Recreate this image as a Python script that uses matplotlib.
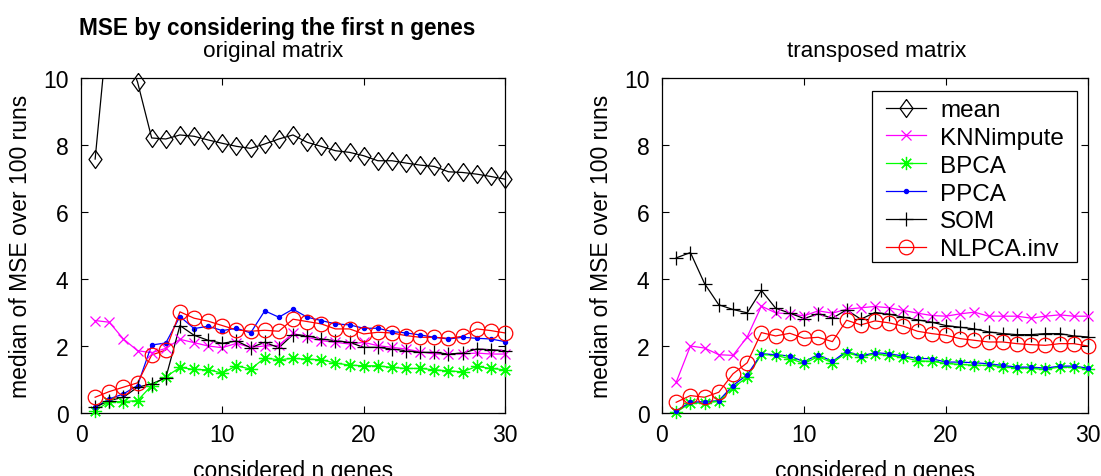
import numpy as np
import matplotlib
matplotlib.use("Agg")
import matplotlib.pyplot as plt
from matplotlib.lines import Line2D
from matplotlib.patches import Rectangle

plt.rcParams['font.family'] = ['Liberation Sans', 'DejaVu Sans']

n_genes = list(range(1, 31))

# ---- original matrix ----
orig_mean = [7.58, 12.0, 11.0, 9.88, 8.21, 8.18, 8.30, 8.26, 8.15, 8.05, 7.96, 7.90, 8.03, 8.18, 8.30,
             8.08, 7.96, 7.83, 7.78, 7.68, 7.53, 7.53, 7.46, 7.40, 7.36, 7.20, 7.18, 7.13, 7.06, 6.98]
orig_knn = [2.76, 2.71, 2.21, 1.86, 1.80, 1.93, 2.20, 2.10, 2.00, 1.95, 2.08, 1.96, 2.00, 2.02, 2.38,
            2.26, 2.16, 2.11, 2.06, 2.11, 2.01, 1.96, 1.91, 1.83, 1.76, 1.76, 1.76, 1.79, 1.76, 1.76]
orig_bpca = [0.07, 0.34, 0.34, 0.37, 0.82, 1.08, 1.36, 1.30, 1.29, 1.19, 1.41, 1.31, 1.64, 1.59, 1.63,
             1.61, 1.59, 1.49, 1.43, 1.41, 1.41, 1.36, 1.33, 1.33, 1.29, 1.26, 1.23, 1.39, 1.33, 1.29]
orig_ppca = [0.17, 0.42, 0.57, 0.82, 2.03, 2.09, 2.88, 2.52, 2.59, 2.46, 2.53, 2.39, 3.05, 2.86, 3.10,
             2.86, 2.76, 2.66, 2.63, 2.53, 2.53, 2.43, 2.39, 2.33, 2.26, 2.21, 2.26, 2.23, 2.21, 2.13]
orig_som = [0.17, 0.37, 0.47, 0.77, 0.87, 1.05, 2.61, 2.32, 2.17, 2.08, 2.15, 1.95, 2.11, 1.95, 2.34,
            2.31, 2.21, 2.16, 2.11, 1.96, 1.96, 1.91, 1.86, 1.81, 1.81, 1.76, 1.79, 1.91, 1.89, 1.86]
orig_nlpca = [0.47, 0.64, 0.77, 0.90, 1.73, 1.88, 3.02, 2.83, 2.74, 2.61, 2.48, 2.44, 2.47, 2.44, 2.80,
              2.73, 2.66, 2.51, 2.51, 2.36, 2.41, 2.39, 2.31, 2.26, 2.26, 2.23, 2.29, 2.51, 2.46, 2.39]

# ---- transposed matrix ----
trans_mean = [15.0] * 30  # off-scale (above 10), not visible
trans_knn = [0.92, 2.00, 1.94, 1.74, 1.72, 2.27, 3.19, 2.99, 2.96, 2.90, 3.05, 2.98, 3.10, 3.14, 3.18,
             3.14, 3.06, 2.98, 2.91, 2.89, 2.96, 3.01, 2.89, 2.89, 2.89, 2.83, 2.89, 2.93, 2.89, 2.89]
trans_bpca = [0.02, 0.30, 0.30, 0.35, 0.75, 1.07, 1.75, 1.72, 1.62, 1.48, 1.68, 1.50, 1.80, 1.68, 1.76,
              1.72, 1.66, 1.56, 1.54, 1.48, 1.45, 1.43, 1.42, 1.38, 1.35, 1.33, 1.30, 1.38, 1.36, 1.32]
trans_ppca = [0.07, 0.32, 0.34, 0.37, 0.82, 1.14, 1.77, 1.74, 1.70, 1.53, 1.74, 1.54, 1.84, 1.70, 1.80,
              1.77, 1.70, 1.63, 1.62, 1.52, 1.52, 1.50, 1.47, 1.42, 1.37, 1.37, 1.34, 1.40, 1.40, 1.34]
trans_som = [4.63, 4.79, 3.86, 3.23, 3.09, 2.99, 3.66, 3.13, 2.98, 2.82, 2.96, 2.83, 3.08, 2.80, 3.00,
             2.95, 2.86, 2.78, 2.71, 2.61, 2.56, 2.51, 2.42, 2.37, 2.34, 2.34, 2.37, 2.37, 2.30, 2.27]
trans_nlpca = [0.32, 0.52, 0.47, 0.62, 1.17, 1.50, 2.40, 2.30, 2.38, 2.23, 2.26, 2.13, 2.77, 2.63, 2.75,
               2.69, 2.59, 2.44, 2.37, 2.32, 2.22, 2.17, 2.12, 2.12, 2.07, 2.04, 2.02, 2.07, 2.07, 2.00]

labels = ['mean', 'KNNimpute', 'BPCA', 'PPCA', 'SOM', 'NLPCA.inv']
x_ticks = [0, 10, 20, 30]
y_ticks = [0, 2, 4, 6, 8, 10]

ASTER = (8, 2, 0)
DIAMOND = [(0, 1), (0.72, 0), (0, -1), (-0.72, 0), (0, 1)]
styles = [
    dict(color='k', marker=DIAMOND, ms=13, mfc='none'),
    dict(color=(1, 0, 1), marker='x', ms=7, mfc='none'),
    dict(color=(0, 1, 0), marker=ASTER, ms=9.5, mfc='none'),
    dict(color=(0, 0, 1), marker='.', ms=6),
    dict(color='k', marker='+', ms=10, mfc='none'),
    dict(color=(1, 0, 0), marker='o', ms=10.5, mfc='none'),
]

W, H = 1101, 477
fig = plt.figure(figsize=(W / 100, H / 100), dpi=100)
ax1 = fig.add_axes([81 / W, 1 - 414 / H, 424 / W, 335 / H])
ax2 = fig.add_axes([662 / W, 1 - 414 / H, 426 / W, 335 / H])

def draw(ax, series):
    x = np.array(n_genes)
    for vals, st in zip(series, styles):
        v = np.array(vals, dtype=float)
        # connecting line (clipped to the axes)
        ax.plot(x, v, '-', color=st['color'], lw=0.9, zorder=2)
        # markers for in-range points (not clipped, MATLAB-like)
        m = v <= 10
        ax.plot(x[m], v[m], linestyle='none', marker=st['marker'], ms=st['ms'],
                mec=st['color'], mfc=st.get('mfc', st['color']), mew=0.9,
                clip_on=False, zorder=3)
    ax.set_xlim(0, 30)
    ax.set_ylim(0, 10)
    ax.set_xticks(x_ticks)
    ax.set_yticks(y_ticks)
    ax.tick_params(direction='in', top=True, right=True, length=5, width=0.8,
                   labelsize=16.5)
    ax.tick_params(axis='y', pad=9)
    ax.tick_params(axis='x', pad=7)
    for s in ax.spines.values():
        s.set_linewidth(0.9)
    ax.set_ylabel('median of MSE over 100 runs', fontsize=16.5, labelpad=8)

draw(ax1, [orig_mean, orig_knn, orig_bpca, orig_ppca, orig_som, orig_nlpca])
draw(ax2, [trans_mean, trans_knn, trans_bpca, trans_ppca, trans_som, trans_nlpca])

# x labels (partly cut at the bottom like the reference)
fig.text(293 / W, 1 - 460 / H, 'considered n genes', ha='center', va='top', fontsize=16.5)
fig.text(875 / W, 1 - 460 / H, 'considered n genes', ha='center', va='top', fontsize=16.5)

# titles
fig.text(277 / W, 1 - 28 / H, 'MSE by considering the first n genes', ha='center', va='center',
         fontsize=16.3, fontweight='bold')
fig.text(273 / W, 1 - 52 / H, 'original matrix', ha='center', va='center', fontsize=16.2)
fig.text(877 / W, 1 - 52 / H, 'transposed matrix', ha='center', va='center', fontsize=16.2)

# legend box (drawn separately for MATLAB-like padding)
bx0, bx1 = (872 - 662) / 426, (1077 - 662) / 426
by1, by0 = (414 - 92) / 335, (414 - 263) / 335
ax2.add_patch(Rectangle((bx0, by0), bx1 - bx0, by1 - by0, transform=ax2.transAxes,
                        facecolor='white', edgecolor='k', lw=0.9, zorder=4, clip_on=False))

handles = [Line2D([], [], color=st['color'], lw=0.9, marker=st['marker'], ms=st['ms'],
                  mec=st['color'], mfc=st.get('mfc', st['color']), mew=0.9) for st in styles]
leg = ax2.legend(handles, labels, loc='upper left',
                 bbox_to_anchor=((886 - 662) / 426, (414 - 100) / 335),
                 fontsize=17.5, frameon=False, handlelength=1.65, labelspacing=0.24,
                 borderpad=0, handletextpad=0.58, borderaxespad=0)
leg.set_zorder(5)

fig.savefig('out.png', dpi=100)
